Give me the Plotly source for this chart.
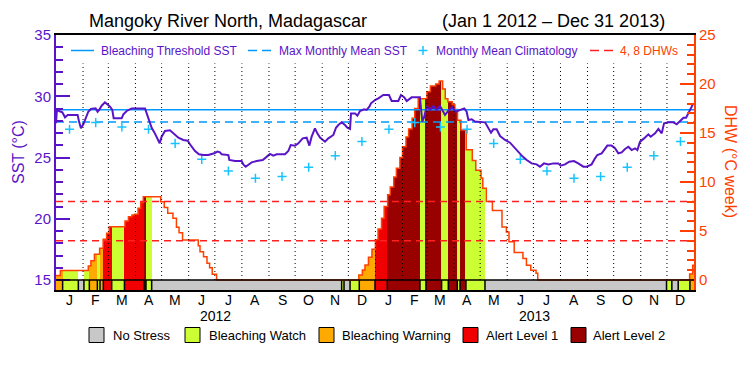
import numpy as np
import pandas as pd
import plotly.graph_objects as go

# ---------------- data ----------------
START = pd.Timestamp("2012-01-01")
END = pd.Timestamp("2014-01-01")
N_DAYS = (END - START).days  # 731

sst_day = [0, 1, 3.4, 7.3, 10.3, 13.4, 18, 24.8, 26.4, 28.6, 31.3, 34, 37, 40, 45.4, 47.7, 49.6,
           52.3, 56.1, 58.8, 61.9, 64.5, 66.1, 75.2, 77.2, 81, 86.7, 102, 104, 106.6, 109.6, 112.7,
           115.3, 118.8, 121, 124.9, 130.6, 134.4, 140.2, 145.9, 150.9, 153.5, 159.3, 163.8, 168.8,
           174.5, 181.4, 184.9, 187.9, 189.8, 197.5, 198.6, 205.1, 212.7, 214.6, 217.3, 220.4, 224.2,
           229.9, 236.8, 240.6, 245.2, 249, 252.8, 262.4, 266.2, 268.9, 273.9, 277.7, 282.6, 287.2,
           290.3, 292.9, 296.7, 299.4, 302.5, 308.2, 312, 317.8, 320.8, 323.5, 327.3, 331.1, 333.8,
           336.9, 338, 342.6, 345.3, 348.3, 352.9, 356, 359, 360.9, 365.5, 369.3, 375, 381.5, 384.6,
           392.2, 395.3, 399.1, 401.8, 407.5, 417, 418.2, 419.7, 422, 424.7, 428.5, 432.3, 436.2, 440,
           442.6, 445.7, 449.5, 454.1, 457.9, 462.9, 467.8, 470.5, 472.5, 476.3, 480.1, 491.6, 495.4,
           498.4, 501.1, 504.9, 508.8, 514.5, 520.2, 526, 531.7, 534.7, 539.3, 545, 550.7, 554.5,
           559.1, 564.1, 569.8, 575.5, 578.2, 583.2, 588.1, 593.5, 598.4, 604.2, 608, 613.7, 617.6,
           620.2, 625.2, 629, 631.7, 636.6, 640.5, 644.3, 648.1, 652, 655.8, 659.6, 663.4, 666.1,
           669.2, 673.8, 678.7, 681.4, 686.4, 690.2, 694, 696.7, 701.7, 707.4, 711.2, 715.1, 718.9,
           721.9, 724.6, 727.3, 730.3]
sst_val = [27.8, 28.85, 28.8, 28.69, 28.28, 28.47, 28.47, 28.47, 27.93, 27.38, 27.71, 28.25, 28.74,
           28.96, 29.01, 28.74, 28.9, 29.23, 29.5, 29.34, 29.15, 28.88, 28.2, 28.2, 28.52, 28.8, 29.01,
           29.01, 28.6, 28.06, 27.43, 27.05, 26.7, 26.16, 26.7, 27.16, 27.22, 26.97, 26.62, 26.43,
           26.37, 26.08, 25.53, 25.26, 25.2, 25.2, 25.34, 25.48, 25.42, 25.26, 25.2, 24.8, 24.71,
           24.71, 24.44, 24.25, 24.44, 24.6, 24.71, 24.8, 25.01, 25.29, 25.15, 25.26, 25.26, 25.53,
           26.02, 25.97, 26.16, 26.56, 26.62, 25.97, 26.7, 27.38, 26.97, 26.62, 26.29, 26.56, 26.84,
           27.43, 27.65, 27.87, 27.65, 27.43, 27.33, 28.6, 28.6, 28.41, 28.8, 28.93, 28.88, 29.15,
           29.42, 29.69, 29.83, 30.1, 30.1, 29.61, 29.61, 30.1, 29.91, 29.61, 29.91, 29.91, 29.01,
           27.93, 28.33, 29.2, 28.88, 29.2, 28.88, 29.2, 28.88, 28.47, 28.82, 29.1, 28.74, 28.88,
           29.01, 28.74, 28.06, 28.12, 27.93, 27.87, 27.38, 27.03, 27.3, 27.3, 26.75, 26.43, 26.21,
           25.75, 25.35, 25.07, 24.8, 24.52, 24.44, 24.25, 24.52, 24.44, 24.52, 24.52, 24.33, 24.44,
           24.66, 24.71, 24.52, 24.25, 24.25, 24.44, 24.93, 25.2, 25.34, 25.69, 25.97, 25.97, 25.75,
           25.34, 25.42, 25.69, 25.88, 25.61, 25.75, 25.61, 26.29, 26.56, 26.89, 26.7, 26.97, 27.33,
           26.97, 27.79, 27.87, 27.87, 27.71, 27.98, 28.25, 28.25, 28.6, 28.96, 29.42]

clim_month_sst = [27.3, 27.85, 27.5, 27.3, 26.15, 24.85, 23.9, 23.3, 23.45, 24.2, 25.15, 26.3]
mmm_sst = 27.9
threshold_sst = 28.9
dhw_levels = [4, 8]

dhw_day = [0, 5, 37, 40, 44, 50, 54, 58, 61, 79, 83, 87, 90, 94, 97, 100, 120, 124, 128, 134, 138,
           141, 145, 163, 165, 169, 173, 176, 179, 184,
           347, 351, 354, 358, 362, 366, 369, 373, 376, 380, 383, 387, 390, 394, 397, 401, 404, 408,
           411, 415, 425, 429, 435, 439, 443, 446, 449, 454, 457, 460, 464, 470, 477, 481, 487, 489,
           493, 500, 511, 516, 519, 525, 535, 539, 544, 550, 552, 726, 729.5]
dhw_val = [0.45, 0.97, 1.43, 1.97, 2.62, 3.23, 4.15, 4.76, 5.44, 6.02, 6.46, 6.63, 6.7, 7.31, 7.92,
           8.5, 7.99, 7.41, 6.8, 6.29, 5.38, 4.83, 4.08, 3.5, 2.89, 2.38, 1.7, 1.26, 0.58, 0,
           0.5, 1.02, 1.53, 2.31, 3.13, 4.1, 5.2, 6.3, 7.5, 8.7, 9.5, 10.5, 11.4, 12.5, 13.6, 14.6,
           15.4, 16.5, 17.5, 18.5, 19.2, 19.8, 20.0, 20.3, 19.5, 18.5, 18.2, 17.9, 17.4, 16.3, 15.3,
           13.3, 12.2, 11.2, 10.4, 9.35, 8.0, 7.1, 5.4, 4.9, 3.9, 2.8, 2.2, 1.5, 1.0, 0.7, 0, 0.6, 1.5]

# stress level runs: start day and level (0 none, 1 watch, 2 warning, 3 alert 1, 4 alert 2)
stress_day = [0, 7.6, 25.6, 32, 38.2, 47.4, 50.4, 54.2, 63.8, 78.4, 101, 103.1, 109.6, 327.3, 330,
              336.9, 347.5, 365.5, 379.6, 417, 423.9, 441.8, 449.5, 459.8, 462.9, 469.7, 491.5,
              699.5, 705.6, 712.9, 726.3]
stress_code = [2, 1, 0, 1, 2, 1, 2, 3, 1, 3, 4, 1, 0, 1, 0, 1, 2, 3, 4, 1, 4, 1, 4, 1, 4, 1, 0,
               1, 0, 1, 2]
stress_names = ["No Stress", "Bleaching Watch", "Bleaching Warning", "Alert Level 1", "Alert Level 2"]
stress_colors = ["#c8c8c8", "#ccff33", "#ffaa00", "#f00000", "#990000"]

month_letters = list("JFMAMJJASOND")
years = [2012, 2013]

# ---------------- styling ----------------
FONT = "Liberation Sans, Arial, sans-serif"
PURPLE = "#5a14c8"
ORANGE = "#ff4000"
BLUE = "#0099ff"
CYAN = "#19c3ff"
RED = "#ff2020"

OFF = 8                                # page body margin of the exported html
W, H = 750 - OFF, 375 - OFF
SL, SR, ST, SB = 56, 694, 35, 290      # plot area in screen pixels
SST_15_PX = 280
SST_LO = 15 - (SB - SST_15_PX) / ((SST_15_PX - ST) / 20.0)
DHW_LO = -(SB - SST_15_PX) / ((SST_15_PX - ST) / 25.0)
L, R, T, B = SL - OFF, SR - OFF, ST - OFF, SB - OFF


def pxx(x):
    return (x - SL) / (SR - SL)


def pxy(y):
    return (SB - y) / (SB - ST)


# ---------------- derived positions ----------------
month_starts = pd.date_range(START, END, freq="MS")
month_bounds = [(d - START).days for d in month_starts]
month_mid = [(a + b) / 2 for a, b in zip(month_bounds[:-1], month_bounds[1:])]
month_text = month_letters * len(years)
year_bounds = [(pd.Timestamp(f"{y}-01-01") - START).days for y in years] + [N_DAYS]
year_mid = [(a + b) / 2 for a, b in zip(year_bounds[:-1], year_bounds[1:])]

clim_x = month_mid
clim_y = clim_month_sst * len(years)


def step_at(days, vals, t):
    i = int(np.searchsorted(np.asarray(days, float), t, side="right")) - 1
    return vals[max(i, 0)]


bounds = sorted(set(dhw_day) | set(stress_day) | {N_DAYS})
fx, fw, fh, fc = [], [], [], []
for a, b in zip(bounds[:-1], bounds[1:]):
    lvl = step_at(stress_day, stress_code, a)
    h = step_at(dhw_day, dhw_val, a)
    if lvl > 0 and h > 0:
        fx.append((a + b) / 2)
        fw.append(b - a)
        fh.append(h)
        fc.append(stress_colors[lvl])

run_ends = stress_day[1:] + [N_DAYS]
sx = [(a + b) / 2 for a, b in zip(stress_day, run_ends)]
sw = [b - a for a, b in zip(stress_day, run_ends)]
sc = [stress_colors[c] for c in stress_code]

sep_x, sep_y = [], []
for d in stress_day[1:]:
    sep_x += [d, d, None]
    sep_y += [DHW_LO, 0, None]

fig = go.Figure()

# DHW-colored fill
fig.add_trace(go.Bar(x=fx, y=fh, width=fw, base=0, marker=dict(color=fc, line=dict(width=0)),
                     yaxis="y", showlegend=False, hoverinfo="skip"))
# stress strip
fig.add_trace(go.Bar(x=sx, y=[-DHW_LO] * len(sx), width=sw, base=DHW_LO,
                     marker=dict(color=sc, line=dict(width=0)),
                     yaxis="y", showlegend=False, hoverinfo="skip"))
fig.add_trace(go.Scatter(x=sep_x, y=sep_y, mode="lines", line=dict(color="black", width=1.5),
                         yaxis="y", showlegend=False, hoverinfo="skip"))
# DHW step line
fig.add_trace(go.Scatter(x=dhw_day + [N_DAYS], y=dhw_val + [dhw_val[-1]], mode="lines",
                         line=dict(color=ORANGE, width=1.5, shape="hv"), yaxis="y",
                         showlegend=False))
# 4, 8 DHW lines
lx, ly = [], []
for v in dhw_levels:
    lx += [0, N_DAYS, None]
    ly += [v, v, None]
fig.add_trace(go.Scatter(x=lx, y=ly, mode="lines", line=dict(color=RED, width=1.5, dash="7px,5px"),
                         yaxis="y", showlegend=False))
# SST related
fig.add_trace(go.Scatter(x=[0, N_DAYS], y=[threshold_sst] * 2, mode="lines",
                         line=dict(color=BLUE, width=1.5), yaxis="y2", showlegend=False))
fig.add_trace(go.Scatter(x=[0, N_DAYS], y=[mmm_sst] * 2, mode="lines",
                         line=dict(color=BLUE, width=1.5, dash="8px,5px"), yaxis="y2",
                         showlegend=False))
fig.add_trace(go.Scatter(x=clim_x, y=clim_y, mode="markers",
                         marker=dict(symbol="cross-thin", size=6.5, line=dict(color=CYAN, width=1.5)),
                         yaxis="y2", showlegend=False))
fig.add_trace(go.Scatter(x=sst_day, y=sst_val, mode="lines", line=dict(color=PURPLE, width=2),
                         yaxis="y2", showlegend=False))

shapes = []
# month dotted lines
for d in month_bounds[1:-1]:
    shapes.append(dict(type="line", xref="x", yref="y", x0=d, x1=d, y0=0, y1=22.1,
                       line=dict(color="black", width=1, dash="1px,3px"), layer="above"))
# strip top line
shapes.append(dict(type="line", xref="x", yref="y", x0=0, x1=N_DAYS, y0=0, y1=0,
                   line=dict(color="black", width=1.5), layer="above"))

# top legend keys
LY = pxy(50.5)
shapes.append(dict(type="line", xref="paper", yref="paper", x0=pxx(71), x1=pxx(94), y0=LY, y1=LY,
                   line=dict(color=BLUE, width=1.5)))
shapes.append(dict(type="line", xref="paper", yref="paper", x0=pxx(248), x1=pxx(272), y0=LY, y1=LY,
                   line=dict(color=BLUE, width=1.5, dash="9px,5px")))
shapes.append(dict(type="line", xref="paper", yref="paper", x0=pxx(418.5), x1=pxx(427.5), y0=LY,
                   y1=LY, line=dict(color=CYAN, width=1.5)))
shapes.append(dict(type="line", xref="paper", yref="paper", x0=pxx(423), x1=pxx(423), y0=pxy(46),
                   y1=pxy(55), line=dict(color=CYAN, width=1.5)))
shapes.append(dict(type="line", xref="paper", yref="paper", x0=pxx(590), x1=pxx(614), y0=LY, y1=LY,
                   line=dict(color=RED, width=1.5, dash="9px,5px")))

# bottom legend boxes
box_x = [89, 185, 319, 463, 571]
text_x = [111, 207, 340, 484, 591]
for bx, col in zip(box_x, stress_colors):
    shapes.append(dict(type="rect", xref="paper", yref="paper", x0=pxx(bx), x1=pxx(bx + 15),
                       y0=pxy(342.5), y1=pxy(327.5), fillcolor=col,
                       line=dict(color="black", width=1)))

ann = []
ann.append(dict(text="Mangoky River North, Madagascar", x=pxx(87), y=pxy(21), xref="paper",
                yref="paper", xanchor="left", yanchor="middle", showarrow=False,
                font=dict(size=18, color="black", family=FONT)))
ann.append(dict(text="(Jan 1 2012 \u2013 Dec 31 2013)", x=pxx(667), y=pxy(21), xref="paper",
                yref="paper", xanchor="right", yanchor="middle", showarrow=False,
                font=dict(size=18, color="black", family=FONT)))
for txt, x0, col in [("Bleaching Threshold SST", 99, PURPLE), ("Max Monthly Mean SST", 277, PURPLE),
                     ("Monthly Mean Climatology", 433.5, PURPLE), ("4, 8 DHWs", 618, ORANGE)]:
    ann.append(dict(text=txt, x=pxx(x0), y=LY, xref="paper", yref="paper", xanchor="left",
                    yanchor="middle", showarrow=False, font=dict(size=12, color=col, family=FONT)))
for txt, x0 in zip(stress_names, text_x):
    ann.append(dict(text=txt, x=pxx(x0), y=pxy(335), xref="paper", yref="paper", xanchor="left",
                    yanchor="middle", showarrow=False, font=dict(size=13, color="black", family=FONT)))
for txt, xm in zip(month_text, month_mid):
    ann.append(dict(text=txt, x=xm, y=pxy(300), xref="x", yref="paper", xanchor="center",
                    yanchor="middle", showarrow=False, font=dict(size=14, color="black", family=FONT)))
for yv, xm in zip(years, year_mid):
    ann.append(dict(text=str(yv), x=xm, y=pxy(316), xref="x", yref="paper", xanchor="center",
                    yanchor="middle", showarrow=False, font=dict(size=14, color="black", family=FONT)))
ann.append(dict(text="SST (\u00b0C)", x=pxx(18), y=pxy(152), xref="paper", yref="paper",
                textangle=-90, showarrow=False, xanchor="center", yanchor="middle",
                font=dict(size=16, color=PURPLE, family=FONT)))
ann.append(dict(text="DHW (\u00b0C week)", x=pxx(731), y=pxy(161), xref="paper", yref="paper",
                textangle=90, showarrow=False, xanchor="center", yanchor="middle",
                font=dict(size=16, color=ORANGE, family=FONT)))

fig.update_layout(
    width=W, height=H, autosize=False,
    margin=dict(l=L, r=W - R, t=T, b=H - B, pad=0),
    paper_bgcolor="white", plot_bgcolor="white",
    barmode="overlay", bargap=0, showlegend=False,
    font=dict(family=FONT),
    xaxis=dict(range=[0, N_DAYS], tickmode="array", tickvals=month_mid, ticktext=[""] * len(month_mid),
               ticks="", showticklabels=False, showgrid=False, zeroline=False, showline=True,
               linecolor="black", linewidth=1.5, mirror=True),
    yaxis=dict(side="right", range=[DHW_LO, 25], tickmode="array", tickvals=list(range(0, 26, 5)),
               ticks="inside", ticklen=14, tickwidth=1.5, tickcolor=ORANGE,
               minor=dict(tickmode="array", tickvals=list(range(0, 26)), ticks="inside", ticklen=7,
                          tickwidth=1.5, tickcolor=ORANGE, showgrid=False),
               showline=True, linecolor=ORANGE, linewidth=2, showgrid=False, zeroline=False,
               tickfont=dict(size=15, color=ORANGE, family=FONT)),
    yaxis2=dict(overlaying="y", side="left", range=[SST_LO, 35], tickmode="array",
                tickvals=list(range(15, 36, 5)), ticks="inside", ticklen=14, tickwidth=1.5,
                tickcolor=PURPLE,
                minor=dict(tickmode="array", tickvals=list(range(15, 36)), ticks="inside", ticklen=7,
                           tickwidth=1.5, tickcolor=PURPLE, showgrid=False),
                showline=True, linecolor=PURPLE, linewidth=2, showgrid=False, zeroline=False,
                tickfont=dict(size=15, color=PURPLE, family=FONT)),
    shapes=shapes, annotations=ann,
)

fig.write_html("out.html")
